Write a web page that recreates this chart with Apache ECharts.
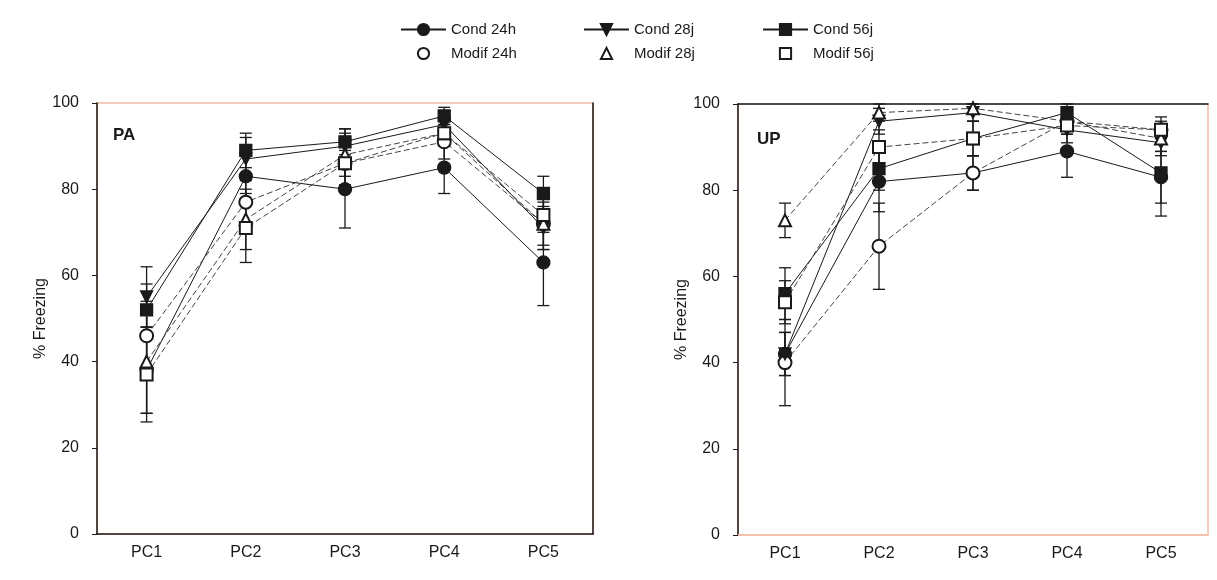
<!DOCTYPE html>
<html><head><meta charset="utf-8">
<script src="https://cdn.jsdelivr.net/npm/echarts@6/dist/echarts.min.js"></script>
<style>html,body{margin:0;padding:0;background:#fff}#c{width:1217px;height:580px}</style>
</head><body><div id="c"></div>
<script>
// ---------- data ----------
const categories = ['PC1', 'PC2', 'PC3', 'PC4', 'PC5'];
const yTicks = [0, 20, 40, 60, 80, 100];
const panelTitles = ['PA', 'UP'];
const seriesNames = ['Cond 24h', 'Modif 24h', 'Cond 28j', 'Modif 28j', 'Cond 56j', 'Modif 56j'];

// PA panel (mean % freezing, SEM)
const paCond24h = [38, 83, 80, 85, 63];
const paCond24hErr = [10, 6, 9, 6, 10];
const paModif24h = [46, 77, 86, 91, 72];
const paModif24hErr = [8, 6, 5, 4, 6];
const paCond28j = [55, 87, 90, 95, 71];
const paCond28jErr = [7, 5, 4, 3, 5];
const paModif28j = [40, 73, 88, 93, 72];
const paModif28jErr = [12, 7, 5, 3, 5];
const paCond56j = [52, 89, 91, 97, 79];
const paCond56jErr = [6, 4, 3, 2, 4];
const paModif56j = [37, 71, 86, 93, 74];
const paModif56jErr = [11, 8, 5, 3, 4];

// UP panel
const upCond24h = [42, 82, 84, 89, 83];
const upCond24hErr = [5, 7, 4, 6, 6];
const upModif24h = [40, 67, 84, 96, 94];
const upModif24hErr = [10, 10, 4, 3, 3];
const upCond28j = [42, 96, 98, 94, 91];
const upCond28jErr = [5, 3, 2, 3, 3];
const upModif28j = [73, 98, 99, 96, 92];
const upModif28jErr = [4, 2, 1, 2, 3];
const upCond56j = [56, 85, 92, 98, 84];
const upCond56jErr = [6, 5, 4, 2, 10];
const upModif56j = [54, 90, 92, 95, 94];
const upModif56jErr = [5, 4, 4, 2, 2];

// ---------- styles ----------
const FONT = 'Liberation Sans, Arial, sans-serif';
const SALMON = '#f2bda6';
const INK = '#1a1a1a';
const symbols = {
  'Cond 24h': { symbol: 'circle', size: 13, rotate: 0 },
  'Modif 24h': { symbol: 'emptyCircle', size: 13, rotate: 0 },
  'Cond 28j': { symbol: 'triangle', size: 12, rotate: 180 },
  'Modif 28j': { symbol: 'emptyTriangle', size: 12, rotate: 0 },
  'Cond 56j': { symbol: 'rect', size: 12, rotate: 0 },
  'Modif 56j': { symbol: 'emptyRect', size: 12, rotate: 0 }
};

const panels = [
  { means: [paCond24h, paModif24h, paCond28j, paModif28j, paCond56j, paModif56j],
    errs: [paCond24hErr, paModif24hErr, paCond28jErr, paModif28jErr, paCond56jErr, paModif56jErr] },
  { means: [upCond24h, upModif24h, upCond28j, upModif28j, upCond56j, upModif56j],
    errs: [upCond24hErr, upModif24hErr, upCond28jErr, upModif28jErr, upCond56jErr, upModif56jErr] }
];

function errRender(params, api) {
  const x = api.value(0);
  const pLo = api.coord([x, api.value(1)]);
  const pHi = api.coord([x, api.value(2)]);
  const w = 6;
  const st = { stroke: INK, lineWidth: 1.3 };
  return { type: 'group', children: [
    { type: 'line', shape: { x1: pLo[0], y1: pLo[1], x2: pHi[0], y2: pHi[1] }, style: st },
    { type: 'line', shape: { x1: pLo[0] - w, y1: pLo[1], x2: pLo[0] + w, y2: pLo[1] }, style: st },
    { type: 'line', shape: { x1: pHi[0] - w, y1: pHi[1], x2: pHi[0] + w, y2: pHi[1] }, style: st }
  ]};
}

const series = [];
panels.forEach((p, pi) => {
  const xIdx = pi * 2, yIdx = pi * 2;
  seriesNames.forEach((name, si) => {
    const isModif = name.startsWith('Modif');
    const s = symbols[name];
    series.push({
      type: 'line', name: name, xAxisIndex: xIdx, yAxisIndex: yIdx, z: 3,
      data: p.means[si],
      symbol: s.symbol, symbolSize: s.size, symbolRotate: s.rotate,
      showAllSymbol: true,
      itemStyle: { color: INK, borderColor: INK, borderWidth: 1.3 },
      lineStyle: { color: isModif ? '#444' : INK, width: 1, type: isModif ? [6, 3] : 'solid' },
      emphasis: { disabled: true },
      animation: false
    });
  });
});
panels.forEach((p, pi) => {
  const xIdx = pi * 2, yIdx = pi * 2;
  seriesNames.forEach((name, si) => {
    series.push({
      type: 'custom', name: name + ' SEM', xAxisIndex: xIdx, yAxisIndex: yIdx, z: 2,
      renderItem: errRender,
      encode: { x: 0, y: [1, 2] },
      data: p.means[si].map((v, i) => [i, v - p.errs[si][i], v + p.errs[si][i]])
    });
  });
});

const grids = [
  { left: 97, top: 103, right: 624, bottom: 46, show: true, borderColor: SALMON, borderWidth: 1.5 },
  { left: 738, top: 104, right: 9, bottom: 45, show: true, borderColor: SALMON, borderWidth: 1.5 }
];

const labelStyle = { fontFamily: FONT, fontSize: 16, color: INK };

const xAxes = [], yAxes = [];
[0, 1].forEach(gi => {
  const bottomColor = gi === 0 ? INK : SALMON;
  xAxes.push({
    type: 'category', gridIndex: gi, data: categories, position: 'bottom',
    axisLine: { onZero: false, lineStyle: { color: bottomColor, width: 1.5 } },
    axisTick: { alignWithLabel: true, length: 4, lineStyle: { color: gi === 0 ? INK : '#999' } },
    axisLabel: Object.assign({ margin: 11 }, labelStyle),
    splitLine: { show: false }
  });
  xAxes.push({
    type: 'category', gridIndex: gi, data: categories, position: 'top',
    axisLine: { show: gi === 1, onZero: false, lineStyle: { color: INK, width: 1.5 } },
    axisTick: { show: false }, axisLabel: { show: false }, splitLine: { show: false }
  });
  yAxes.push({
    type: 'value', gridIndex: gi, min: 0, max: 100, interval: 20, position: 'left',
    name: '% Freezing', nameLocation: 'middle', nameGap: 48,
    nameTextStyle: { fontFamily: FONT, fontSize: 16, color: INK },
    axisLine: { show: true, onZero: false, lineStyle: { color: INK, width: 1.5 } },
    axisTick: { show: true, length: 5, inside: false, lineStyle: { color: INK } },
    axisLabel: Object.assign({ margin: 18, formatter: v => yTicks.includes(v) ? String(v) : '' }, labelStyle),
    splitLine: { show: false }
  });
  yAxes.push({
    type: 'value', gridIndex: gi, min: 0, max: 100, interval: 20, position: 'right',
    axisLine: { show: gi === 0, onZero: false, lineStyle: { color: INK, width: 1.5 } },
    axisTick: { show: false }, axisLabel: { show: false }, splitLine: { show: false }
  });
});

function legendFor(names, left) {
  return {
    orient: 'vertical', left: left, top: 17, itemWidth: 45, itemHeight: 14, itemGap: 9,
    selectedMode: false,
    textStyle: { fontFamily: FONT, fontSize: 15, color: INK },
    data: names.map(n => n.startsWith('Modif')
      ? { name: n, lineStyle: { opacity: 0 } }
      : { name: n })
  };
}

const option = {
  backgroundColor: '#fff',
  animation: false,
  title: [
    { text: panelTitles[0], left: 108, top: 122, textStyle: { fontFamily: FONT, fontSize: 17, fontWeight: 'bold', color: INK } },
    { text: panelTitles[1], left: 752, top: 126, textStyle: { fontFamily: FONT, fontSize: 17, fontWeight: 'bold', color: INK } }
  ],
  legend: [
    legendFor([seriesNames[0], seriesNames[1]], 395),
    legendFor([seriesNames[2], seriesNames[3]], 578),
    legendFor([seriesNames[4], seriesNames[5]], 757)
  ],
  grid: grids,
  xAxis: xAxes,
  yAxis: yAxes,
  series: series
};

const chart = echarts.init(document.getElementById('c'), null, { renderer: 'canvas' });
chart.setOption(option);
</script>
</body></html>
